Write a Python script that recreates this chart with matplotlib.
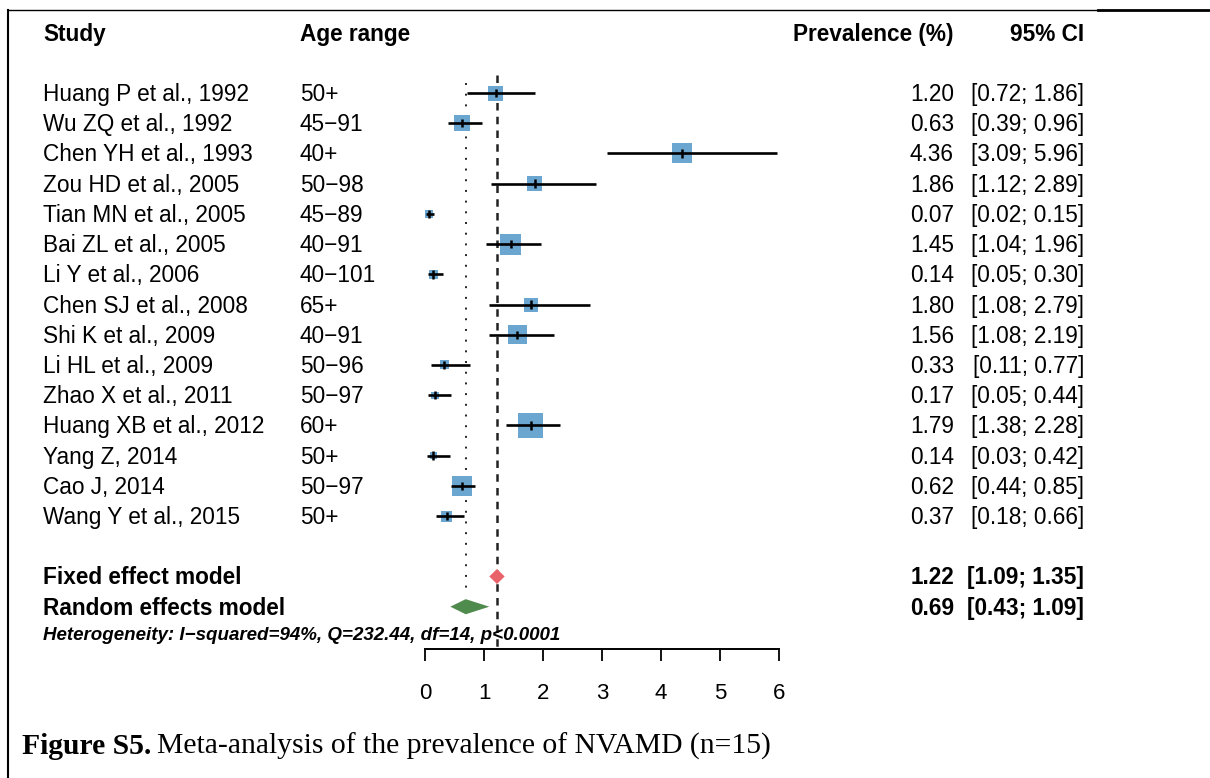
import matplotlib
matplotlib.use("Agg")
import matplotlib.pyplot as plt
from matplotlib.lines import Line2D
from matplotlib.patches import Polygon
from matplotlib.transforms import blended_transform_factory
import numpy as np

# ---- data ----
studies = ["Huang P et al., 1992", "Wu ZQ et al., 1992", "Chen YH et al., 1993",
           "Zou HD et al., 2005", "Tian MN et al., 2005", "Bai ZL et al., 2005",
           "Li Y et al., 2006", "Chen SJ et al., 2008", "Shi K et al., 2009",
           "Li HL et al., 2009", "Zhao X et al., 2011", "Huang XB et al., 2012",
           "Yang Z, 2014", "Cao J, 2014", "Wang Y et al., 2015"]
age_range = ["50+", "45\u221291", "40+", "50\u221298", "45\u221289", "40\u221291", "40\u2212101",
             "65+", "40\u221291", "50\u221296", "50\u221297", "60+", "50+", "50\u221297", "50+"]
prev = [1.20, 0.63, 4.36, 1.86, 0.07, 1.45, 0.14, 1.80, 1.56, 0.33, 0.17, 1.79, 0.14, 0.62, 0.37]
lo = [0.72, 0.39, 3.09, 1.12, 0.02, 1.04, 0.05, 1.08, 1.08, 0.11, 0.05, 1.38, 0.03, 0.44, 0.18]
hi = [1.86, 0.96, 5.96, 2.89, 0.15, 1.96, 0.30, 2.79, 2.19, 0.77, 0.44, 2.28, 0.42, 0.85, 0.66]
weight = [6.3, 6.9, 11.2, 6.3, 1.8, 12.4, 2.3, 5.5, 10.1, 2.3, 1.4, 17.5, 1.4, 11.2, 3.4]  # % (box area)

fixed = (1.22, 1.09, 1.35)
random_ = (0.69, 0.43, 1.09)
het_text = "Heterogeneity: I\u2212squared=94%, Q=232.44, df=14, p<0.0001"
xticks = [0, 1, 2, 3, 4, 5, 6]

W, H = 1210, 778
fig = plt.figure(figsize=(W / 100, H / 100), dpi=100)
plt.rcParams["font.family"] = ["Liberation Sans", "DejaVu Sans"]

# forest axes: x 0..6 spans px 425..779, rows spaced 30.2 px, row 0 at px 62.8
ax = fig.add_axes([425 / W, 1 - 649 / H, (779 - 425) / W, (649 - 62.8) / H])
ax.set_xlim(0, 6)
ax.set_ylim(19.4, 0)
for s in ("top", "left", "right"):
    ax.spines[s].set_visible(False)
ax.spines["bottom"].set_linewidth(1.4)
ax.set_yticks([])
ax.set_xticks(xticks)
ax.tick_params(axis="x", length=8.6, width=1.3, pad=16, labelsize=16)
ax.patch.set_visible(False)

rows = np.arange(1, len(studies) + 1)
box_col = "#6ba6d1"

# reference lines
ax.plot([fixed[0]] * 2, [0.4, 19.4], color="#222222", lw=1.8, ls=(0, (3, 2.5)), clip_on=False, zorder=1)
ax.plot([random_[0]] * 2, [0.67, 17.5], color="#222222", lw=1.4, ls=(0, (1, 4.5)), clip_on=False, zorder=1)

# study boxes, CIs, estimate ticks
side_pt = 25 * 0.72 * np.sqrt(np.array(weight) / max(weight))
ax.scatter(prev, rows, s=side_pt ** 2, marker="s", color=box_col, edgecolor="none", zorder=2, clip_on=False)
ax.hlines(rows, lo, hi, color="black", lw=1.9, zorder=3, clip_on=False)
ax.vlines(prev, rows - 0.14, rows + 0.14, color="black", lw=1.8, zorder=4, clip_on=False)

# pooled diamonds
for (est, l, h), r, col in [(fixed, 17, "#e8636a"), (random_, 18, "#4f8b4c")]:
    ax.add_patch(Polygon([[l, r], [est, r - 0.25], [h, r], [est, r + 0.25]], closed=True,
                         facecolor=col, edgecolor="none", zorder=3, clip_on=False))

# text columns
tr = blended_transform_factory(fig.transFigure, ax.transData)
fs = 16.3
dy = 0.05
x_study, x_age, x_prev, x_ci = 43 / W, 300 / W, 954 / W, 1084 / W
ax.text(x_study, -1 + dy, "Study", transform=tr, fontsize=fs, weight="bold", va="center")
ax.text(x_age, -1 + dy, "Age range", transform=tr, fontsize=fs, weight="bold", va="center")
ax.text(x_prev, -1 + dy, "Prevalence (%)", transform=tr, fontsize=fs, weight="bold", va="center", ha="right")
ax.text(x_ci, -1 + dy, "95% CI", transform=tr, fontsize=fs, weight="bold", va="center", ha="right")
for r, st, ag, p, l, h in zip(rows, studies, age_range, prev, lo, hi):
    ax.text(x_study, r + dy, st, transform=tr, fontsize=fs, va="center")
    ax.text(x_age, r + dy, ag, transform=tr, fontsize=fs, va="center")
    ax.text(x_prev, r + dy, f"{p:.2f}", transform=tr, fontsize=fs, va="center", ha="right")
    ax.text(x_ci, r + dy, f"[{l:.2f}; {h:.2f}]", transform=tr, fontsize=fs, va="center", ha="right")
for (est, l, h), r, name in [(fixed, 17, "Fixed effect model"), (random_, 18, "Random effects model")]:
    ax.text(x_study, r + dy, name, transform=tr, fontsize=fs, weight="bold", va="center")
    ax.text(x_prev, r + dy, f"{est:.2f}", transform=tr, fontsize=fs, weight="bold", va="center", ha="right")
    ax.text(x_ci, r + dy, f"[{l:.2f}; {h:.2f}]", transform=tr, fontsize=fs, weight="bold", va="center", ha="right")
ax.text(x_study, 18.95, het_text, transform=tr, fontsize=13.5, weight="bold", style="italic", va="center")

# page frame fragments
fig.add_artist(Line2D([8 / W, 8 / W], [0, 1 - 9.5 / H], color="black", lw=1.5, transform=fig.transFigure))
fig.add_artist(Line2D([8 / W, 1098 / W], [1 - 9.5 / H] * 2, color="black", lw=1.0, transform=fig.transFigure))
fig.add_artist(Line2D([1098 / W, 1], [1 - 10 / H] * 2, color="black", lw=2.0, transform=fig.transFigure))

# caption
cap1 = fig.text(22 / W, 1 - 746 / H, "Figure S5.", fontsize=21.3, weight="bold",
                family="Liberation Serif", va="center")
fig.canvas.draw()
bb = cap1.get_window_extent()
fig.text((bb.x1 + 6) / W, 1 - 746 / H, "Meta-analysis of the prevalence of NVAMD (n=15)",
         fontsize=21.3, family="Liberation Serif", va="center")

fig.savefig("out.png", dpi=100)
